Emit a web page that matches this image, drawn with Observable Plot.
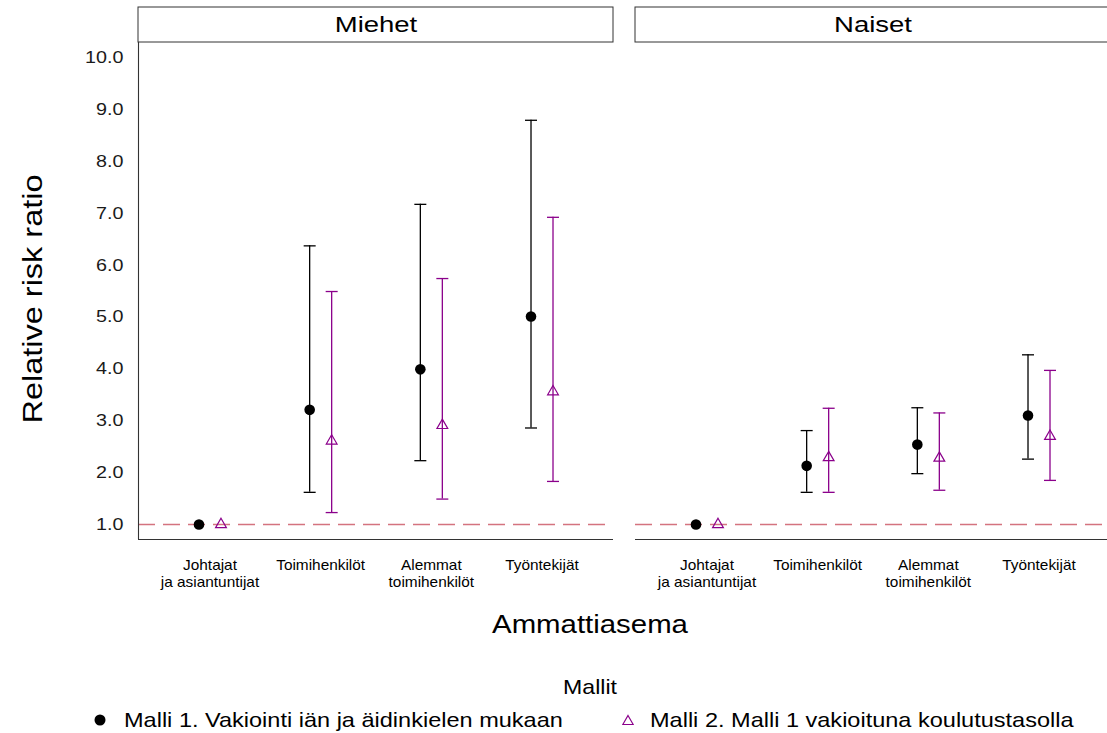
<!DOCTYPE html>
<html>
<head>
<meta charset="utf-8">
<script src="https://cdn.jsdelivr.net/npm/d3@7"></script>
<script src="https://cdn.jsdelivr.net/npm/@observablehq/plot@0.6"></script>
<style>
html, body { margin: 0; padding: 0; background: #fff; overflow: hidden; width: 1107px; height: 733px; }
#wrap { position: relative; width: 1107px; height: 733px; overflow: hidden; font-family: "Liberation Sans", Arial, sans-serif; color: #000; }
#chart { position: absolute; left: 0; top: 0; width: 1110px; }
#chart svg { max-width: none !important; }
.abs { position: absolute; white-space: nowrap; line-height: 1; }
</style>
</head>
<body>
<div id="wrap">
  <div id="chart"></div>
  <div class="abs" id="ytitle" style="left:33px; top:299px; font-size:28px; transform:translate(-50%,-50%) rotate(-90deg) scaleX(1.16);"></div>
  <div class="abs" id="xtitle" style="left:590px; top:624px; font-size:26px; transform:translate(-50%,-50%) scaleX(1.13);"></div>
  <div class="abs" id="legtitle" style="left:590px; top:686px; font-size:21px; transform:translate(-50%,-50%) scaleX(1.1);"></div>
  <div class="abs" id="leg1sym" style="left:94px; top:713px;"><svg width="12" height="12"><circle cx="6" cy="6" r="5.5" fill="#000"/></svg></div>
  <div class="abs" id="leg1" style="left:124px; top:719px; font-size:21px; transform-origin:0 50%; transform:translateY(-50%) scaleX(1.12);"></div>
  <div class="abs" id="leg2sym" style="left:622px; top:713px;"><svg width="12" height="12"><path d="M6,1.5 L11.2,10.5 L0.8,10.5 Z" fill="none" stroke="#8B008B" stroke-width="1.2"/></svg></div>
  <div class="abs" id="leg2" style="left:650px; top:719px; font-size:21px; transform-origin:0 50%; transform:translateY(-50%) scaleX(1.12);"></div>
</div>
<script>
// ---------- data ----------
const sexes = ["Miehet", "Naiset"];
const categories = ["Johtajat\nja asiantuntijat", "Toimihenkilöt", "Alemmat\ntoimihenkilöt", "Työntekijät"];
const models = ["Malli 1. Vakiointi iän ja äidinkielen mukaan", "Malli 2. Malli 1 vakioituna koulutustasolla"];
const yTicks = [1, 2, 3, 4, 5, 6, 7, 8, 9, 10];

// Miehet
const men1Est  = [1.00, 3.21, 3.99, 5.01];
const men1Low  = [null, 1.62, 2.23, 2.86];
const men1High = [null, 6.37, 7.17, 8.79];
const men2Est  = [1.00, 2.61, 2.91, 3.56];
const men2Low  = [null, 1.23, 1.49, 1.83];
const men2High = [null, 5.49, 5.74, 6.92];
// Naiset
const women1Est  = [1.00, 2.13, 2.54, 3.10];
const women1Low  = [null, 1.62, 1.98, 2.26];
const women1High = [null, 2.81, 3.25, 4.27];
const women2Est  = [1.00, 2.29, 2.28, 2.70];
const women2Low  = [null, 1.62, 1.66, 1.85];
const women2High = [null, 3.24, 3.15, 3.97];

// ---------- build table ----------
const series = [
  {sex: sexes[0], model: models[0], est: men1Est, low: men1Low, high: men1High},
  {sex: sexes[0], model: models[1], est: men2Est, low: men2Low, high: men2High},
  {sex: sexes[1], model: models[0], est: women1Est, low: women1Low, high: women1High},
  {sex: sexes[1], model: models[1], est: women2Est, low: women2Low, high: women2High}
];
const rows = [];
for (const s of series) {
  categories.forEach((c, i) => rows.push({sex: s.sex, model: s.model, i, est: s.est[i], low: s.low[i], high: s.high[i]}));
}
const m1 = rows.filter(d => d.model === models[0]);
const m2 = rows.filter(d => d.model === models[1]);
const m1ci = m1.filter(d => d.low != null);
const m2ci = m2.filter(d => d.low != null);
const labelRows = [];
for (const s of sexes) categories.forEach((c, i) => labelRows.push({sex: s, i, label: c}));

// ---------- layout ----------
const yMin = 0.711, yMax = 10.289;
const pxPerUnit = 497 / (yMax - yMin);
const stripTop = yMax + 35 / pxPerUnit;
const xPad = 0.646;
const xMin = -xPad, xMax = categories.length - 1 + xPad;
const black = "#000000", purple = "#8B008B", axisCol = "#333333";
const capSymbol = {draw(context, size) { const w = Math.sqrt(size / Math.PI); context.moveTo(-w, 0); context.lineTo(w, 0); }};

const chart = Plot.plot({
  width: 1110,
  height: 600,
  marginLeft: 138,
  marginRight: 0,
  marginTop: 42,
  marginBottom: 61,
  style: {fontFamily: "'Liberation Sans', Arial, sans-serif", color: "#1a1a1a", background: "#fff", maxWidth: "none"},
  fx: {domain: sexes, padding: 0.0443, axis: null, label: null},
  x: {domain: [xMin, xMax], axis: null},
  y: {domain: [yMin, yMax]},
  marks: [
    Plot.axisY({ticks: yTicks, tickFormat: d => d.toFixed(1), tickSize: 0, tickPadding: 15, fontSize: 17, label: null}),
    Plot.ruleY([1], {stroke: "#d4737f", strokeWidth: 1.4, strokeDasharray: "17 8"}),
    Plot.ruleY([yMin], {stroke: axisCol, strokeWidth: 1.1}),
    Plot.ruleX([sexes[0]], {fx: d => d, x: () => xMin, y1: yMin, y2: yMax, stroke: axisCol, strokeWidth: 1.1}),
    Plot.rect(sexes, {fx: d => d, y1: yMax, y2: stripTop, fill: "#fff", stroke: axisCol, strokeWidth: 1}),
    Plot.text(sexes, {fx: d => d, text: d => d, y: (yMax + stripTop) / 2, fontSize: 22, fill: "#000"}),
    Plot.text(labelRows, {fx: "sex", x: "i", y: yMin, text: "label", dy: 19, lineAnchor: "top", lineHeight: 1.19, fontSize: 14, fill: "#000"}),
    // error bars
    Plot.ruleX(m1ci, {fx: "sex", x: "i", y1: "low", y2: "high", dx: -11, stroke: black, strokeWidth: 1.3}),
    Plot.ruleX(m2ci, {fx: "sex", x: "i", y1: "low", y2: "high", dx: 11, stroke: purple, strokeWidth: 1.3}),
    Plot.dot(m1ci, {fx: "sex", x: "i", y: "low", dx: -11, symbol: capSymbol, r: 6, fill: "none", stroke: black, strokeWidth: 1.3}),
    Plot.dot(m1ci, {fx: "sex", x: "i", y: "high", dx: -11, symbol: capSymbol, r: 6, fill: "none", stroke: black, strokeWidth: 1.3}),
    Plot.dot(m2ci, {fx: "sex", x: "i", y: "low", dx: 11, symbol: capSymbol, r: 6, fill: "none", stroke: purple, strokeWidth: 1.3}),
    Plot.dot(m2ci, {fx: "sex", x: "i", y: "high", dx: 11, symbol: capSymbol, r: 6, fill: "none", stroke: purple, strokeWidth: 1.3}),
    // estimates
    Plot.dot(m1, {fx: "sex", x: "i", y: "est", dx: -11, r: 5.3, fill: black, stroke: "none"}),
    Plot.dot(m2, {fx: "sex", x: "i", y: "est", dx: 11, symbol: "triangle", r: 4, fill: "none", stroke: purple, strokeWidth: 1.2})
  ]
});
chart.style.maxWidth = "none";
document.getElementById("chart").appendChild(chart);

// widen glyphs horizontally (reference text is rendered wider than Liberation Sans)
function stretch(fontSize, s) {
  chart.querySelectorAll(`g[font-size="${fontSize}"] text`).forEach(t => {
    const ax = parseFloat(t.getAttribute("x") || 0);
    const prev = t.getAttribute("transform") || "";
    t.setAttribute("transform", `${prev} translate(${ax},0) scale(${s},1) translate(${-ax},0)`);
  });
}
stretch(17, 1.16);
stretch(22, 1.25);
stretch(14, 1.1);

document.getElementById("ytitle").textContent = "Relative risk ratio";
document.getElementById("xtitle").textContent = "Ammattiasema";
document.getElementById("legtitle").textContent = "Mallit";
document.getElementById("leg1").textContent = models[0];
document.getElementById("leg2").textContent = models[1];
</script>
</body>
</html>
